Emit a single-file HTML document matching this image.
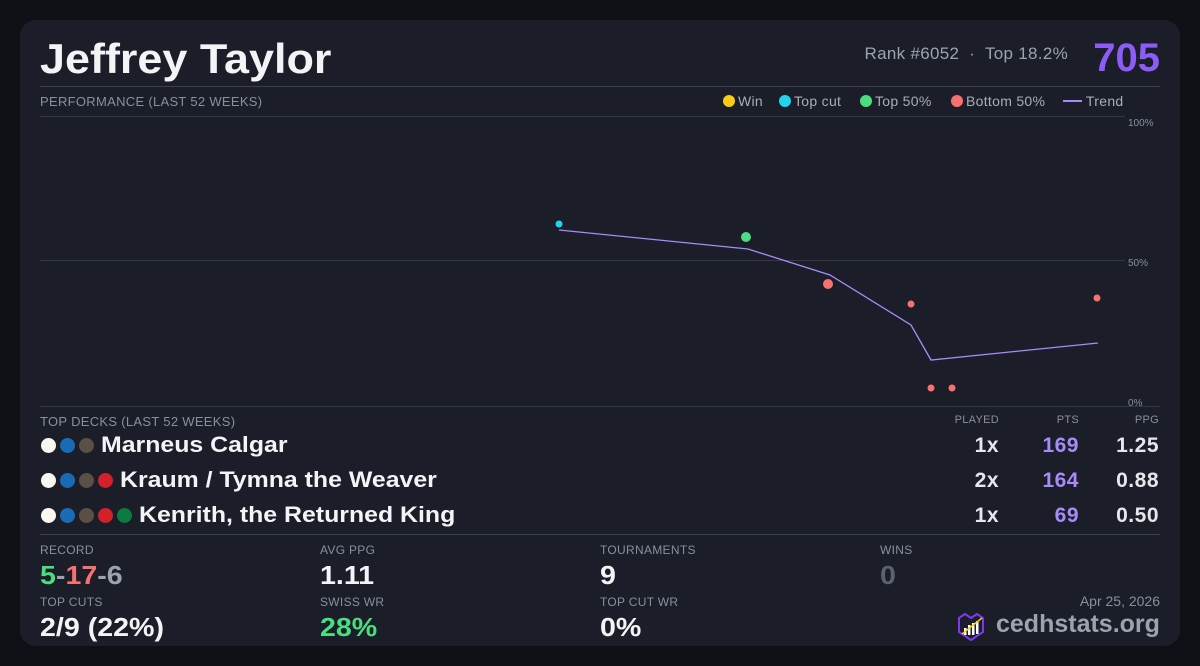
<!DOCTYPE html><html><head><style>
*{margin:0;padding:0;box-sizing:border-box}
body{width:1200px;height:666px;background:#0f1015;font-family:"Liberation Sans",sans-serif;position:relative;overflow:hidden}
.card{position:absolute;left:20px;top:20px;width:1160px;height:626px;background:#1b1d28;border-radius:16px}
.a{position:absolute;white-space:nowrap}
.lbl{font-size:12px;color:#8a8f9c;letter-spacing:0.3px}
.big{font-size:26px;font-weight:bold;color:#f3f4f6;transform:scaleX(1.1);transform-origin:left top}
.deck{font-size:22px;font-weight:bold;color:#f3f4f6}
.deck b{display:inline-block;transform:scaleX(1.13);transform-origin:left center}
.dot{display:inline-block;width:15px;height:15px;border-radius:50%;margin-right:4px;vertical-align:-1px}
.dots{margin-right:3px}
.r{text-align:right}
.num{font-size:21px;font-weight:bold;color:#e5e7eb;letter-spacing:0.5px}
.lg{position:absolute;top:93px;font-size:14px;color:#a8adb8;letter-spacing:0.3px}
.lg i{display:inline-block;width:12px;height:12px;border-radius:50%;margin-right:3px;vertical-align:-1px}
</style></head><body><div class="card"></div>
<div class="a" style="left:40px;top:35px;font-size:42px;font-weight:bold;color:#f3f4f6;transform:scaleX(1.07);transform-origin:left top">Jeffrey Taylor</div>
<div class="a" style="right:132px;top:44px;font-size:17px;color:#9ca3af;letter-spacing:0.3px">Rank #6052 &nbsp;·&nbsp; Top 18.2%</div>
<div class="a" style="right:40px;top:36px;font-size:40px;font-weight:bold;color:#8b5cf6">705</div>
<div class="a" style="left:40px;top:86px;width:1120px;height:1px;background:#3a3e4c"></div>
<div class="a lbl" style="left:40px;top:94px;font-size:13px">PERFORMANCE (LAST 52 WEEKS)</div>
<div class="lg" style="left:723px"><i style="background:#facc15"></i>Win</div>
<div class="lg" style="left:779px"><i style="background:#22d3ee"></i>Top cut</div>
<div class="lg" style="left:860px"><i style="background:#4ade80"></i>Top 50%</div>
<div class="lg" style="left:951px"><i style="background:#f87171"></i>Bottom 50%</div>
<div class="lg" style="left:1063px"><span style="display:inline-block;width:19px;height:2px;background:#a78bfa;vertical-align:4px"></span> Trend</div>
<svg class="a" style="left:0;top:0" width="1200" height="666">
<line x1="40" y1="116.5" x2="1125" y2="116.5" stroke="#343846"/>
<line x1="40" y1="260.5" x2="1125" y2="260.5" stroke="#343846"/>
<line x1="40" y1="406.5" x2="1160" y2="406.5" stroke="#343846"/>
<text x="1128" y="126" font-size="10" fill="#8a8f9c" font-family="Liberation Sans">100%</text>
<text x="1128" y="266" font-size="10" fill="#8a8f9c" font-family="Liberation Sans">50%</text>
<text x="1128" y="406" font-size="10" fill="#8a8f9c" font-family="Liberation Sans">0%</text>
<polyline points="559,230 748,249 830,275 911,325 931,360 1098,343" fill="none" stroke="#a78bfa" stroke-width="1.3"/>
<circle cx="559" cy="224" r="3.5" fill="#22d3ee"/>
<circle cx="746" cy="237" r="5" fill="#4ade80"/>
<circle cx="828" cy="284" r="5" fill="#f87171"/>
<circle cx="911" cy="304" r="3.5" fill="#f87171"/>
<circle cx="931" cy="388" r="3.5" fill="#f87171"/>
<circle cx="952" cy="388" r="3.5" fill="#f87171"/>
<circle cx="1097" cy="298" r="3.5" fill="#f87171"/>
</svg>
<div class="a lbl" style="left:40px;top:414px;font-size:13px">TOP DECKS (LAST 52 WEEKS)</div>
<div class="a lbl r" style="right:201px;top:414px;font-size:11px">PLAYED</div>
<div class="a lbl r" style="right:121px;top:414px;font-size:11px">PTS</div>
<div class="a lbl r" style="right:41px;top:414px;font-size:11px">PPG</div>
<div class="a deck" style="left:41px;top:432px"><span class="dots"><span class="dot" style="background:#f8f8f0"></span><span class="dot" style="background:#1a6bb5"></span><span class="dot" style="background:#5a5045"></span></span><b>Marneus Calgar</b></div>
<div class="a deck" style="left:41px;top:467px"><span class="dots"><span class="dot" style="background:#f8f8f0"></span><span class="dot" style="background:#1a6bb5"></span><span class="dot" style="background:#5a5045"></span><span class="dot" style="background:#d32029"></span></span><b>Kraum / Tymna the Weaver</b></div>
<div class="a deck" style="left:41px;top:502px"><span class="dots"><span class="dot" style="background:#f8f8f0"></span><span class="dot" style="background:#1a6bb5"></span><span class="dot" style="background:#5a5045"></span><span class="dot" style="background:#d32029"></span><span class="dot" style="background:#0b7a3e"></span></span><b>Kenrith, the Returned King</b></div>
<div class="a num r" style="right:201px;top:434px">1x</div><div class="a num r" style="right:121px;top:434px;color:#a78bfa">169</div><div class="a num r" style="right:41px;top:434px">1.25</div>
<div class="a num r" style="right:201px;top:469px">2x</div><div class="a num r" style="right:121px;top:469px;color:#a78bfa">164</div><div class="a num r" style="right:41px;top:469px">0.88</div>
<div class="a num r" style="right:201px;top:504px">1x</div><div class="a num r" style="right:121px;top:504px;color:#a78bfa">69</div><div class="a num r" style="right:41px;top:504px">0.50</div>
<div class="a" style="left:40px;top:534px;width:1120px;height:1px;background:#3a3e4c"></div>
<div class="a lbl" style="left:40px;top:543px">RECORD</div>
<div class="a big" style="left:40px;top:560px"><span style="color:#4ade80">5</span><span style="color:#9ca3af">-</span><span style="color:#f87171">17</span><span style="color:#9ca3af">-6</span></div>
<div class="a lbl" style="left:320px;top:543px">AVG PPG</div><div class="a big" style="left:320px;top:560px">1.11</div>
<div class="a lbl" style="left:600px;top:543px">TOURNAMENTS</div><div class="a big" style="left:600px;top:560px">9</div>
<div class="a lbl" style="left:880px;top:543px">WINS</div><div class="a big" style="left:880px;top:560px;color:#5b616e">0</div>
<div class="a lbl" style="left:40px;top:595px">TOP CUTS</div><div class="a big" style="left:40px;top:612px">2/9 (22%)</div>
<div class="a lbl" style="left:320px;top:595px">SWISS WR</div><div class="a big" style="left:320px;top:612px;color:#4ade80">28%</div>
<div class="a lbl" style="left:600px;top:595px">TOP CUT WR</div><div class="a big" style="left:600px;top:612px">0%</div>
<div class="a r" style="right:40px;top:593px;font-size:14px;color:#8a8f9c">Apr 25, 2026</div>
<svg class="a" style="left:957px;top:612px" width="30" height="30"><path d="M2 6 L8 2 L14 6 L20 2 L26 6 L26 20 L14 28 L2 20 Z" fill="#1b1d28" stroke="#7c3aed" stroke-width="2"/><rect x="7" y="16" width="2.5" height="7" fill="#fff"/><rect x="11" y="13" width="2.5" height="10" fill="#fff"/><rect x="15" y="11" width="2.5" height="12" fill="#fff"/><rect x="19" y="9" width="2.5" height="13" fill="#fff"/><line x1="5" y1="22" x2="25" y2="6" stroke="#facc15" stroke-width="1.5"/></svg>
<div class="a" style="left:996px;top:610px;font-size:25px;font-weight:bold;color:#9ca3af">cedhstats.org</div>
</body></html>
